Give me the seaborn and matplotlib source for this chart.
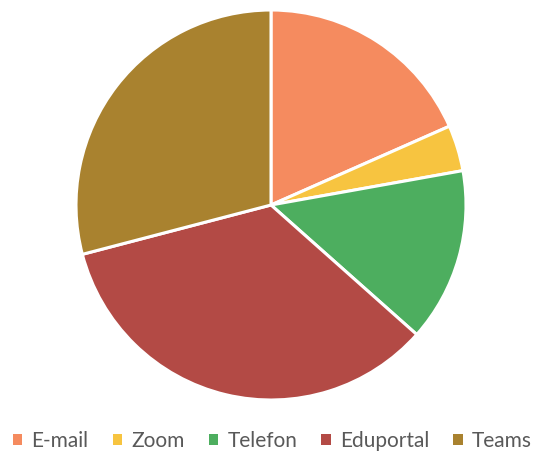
import matplotlib.pyplot as plt
import seaborn as sns

sns.set_theme(style='white')
plt.rcParams['font.family'] = ['Lato', 'DejaVu Sans']

labels = ['E-mail', 'Zoom', 'Telefon', 'Eduportal', 'Teams']
values = [18.4, 3.8, 14.4, 34.4, 29.1]
colors = sns.color_palette(['#F58B5F', '#F7C440', '#4DAE5F', '#B34A45', '#A9822F'])

fig = plt.figure(figsize=(5.45, 4.63), dpi=100)
ax = fig.add_axes([76 / 545, 63 / 463, 390 / 545, 390 / 463])

wedges, _ = ax.pie(values, colors=colors, startangle=90, counterclock=False,
                   wedgeprops=dict(edgecolor='white', linewidth=2.2))
ax.set_xlim(-1, 1)
ax.set_ylim(-1, 1)
ax.set_aspect('auto')

leg = fig.legend(wedges, labels, loc='center', bbox_to_anchor=(0.5, 1 - 441 / 463),
                 ncol=5, frameon=False, fontsize=15, handlelength=0.45, handleheight=0.45,
                 handletextpad=0.45, columnspacing=1.15)
for t in leg.get_texts():
    t.set_color('#595959')
for h in leg.legend_handles:
    h.set_linewidth(0)

fig.savefig('out.png', dpi=100)
